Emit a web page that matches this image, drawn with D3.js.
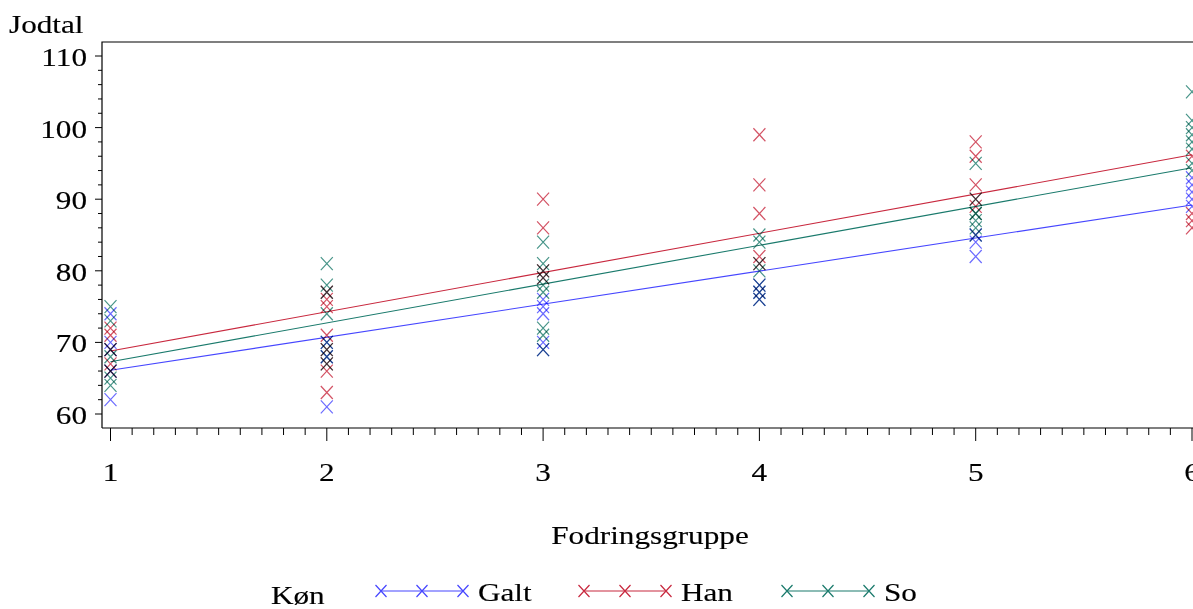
<!DOCTYPE html>
<html><head><meta charset="utf-8">
<script src="https://cdn.jsdelivr.net/npm/d3@7"></script>
<style>
body{margin:0;background:#fff}
svg{display:block}
text{font-family:"Liberation Serif","Times New Roman",serif;fill:#000;stroke:#000;stroke-width:0.15px}
</style>
</head><body>
<svg id="chart" width="1193" height="609"></svg>
<script>
// ---- data ----
const groups = [1, 2, 3, 4, 5, 6];
const seriesNames = ["Galt", "Han", "So"];
const galtValues = [[74, 70, 69, 66, 62], [70, 68, 61], [76, 75, 74, 70, 69], [78, 77, 76], [85, 84, 82], [93, 92, 91, 90, 89]];
const hanValues  = [[72, 71, 69, 67, 66], [77, 76, 75, 71, 69, 67, 66, 63], [90, 86, 80, 79], [99, 92, 88, 82, 81], [98, 96, 92, 90, 89], [96, 88, 87, 86]];
const soValues   = [[75, 73, 69, 68, 66, 65, 64], [81, 78, 77, 74, 70, 69, 68, 67], [84, 81, 80, 79, 78, 77, 72, 71, 69], [85, 84, 81, 80, 78, 77, 76], [95, 90, 88, 88, 87, 86, 85], [105, 101, 100, 99, 98, 97, 95, 94]];
const fitStart = [66.1, 68.8, 67.3];   // fitted value at group 1
const fitEnd   = [89.2, 96.2, 94.4];   // fitted value at group 6
const yTickValues = [60, 70, 80, 90, 100, 110];
const xTickValues = [1, 2, 3, 4, 5, 6];
const yLabel = "Jodtal";
const xLabel = "Fodringsgruppe";
const legendTitle = "Køn";

// ---- styling ----
const colors = ["#4646ff", "#c8283e", "#1a7a6c"];
const SX = 1.2, FS = 26;
const svg = d3.select("#chart");

const x = d3.scaleLinear().domain([1, 6]).range([110.5, 1192]);
const y = d3.scaleLinear().domain([60, 110]).range([414, 56]);
const pLeft = 102, pTop = 42, pBottom = 428, pRight = 1200;

function txt(xp, yp, s, anchor) {
  return svg.append("text")
    .attr("transform", `translate(${xp},${yp}) scale(${SX},1)`)
    .attr("text-anchor", anchor || "start")
    .attr("font-size", FS)
    .text(s);
}

// frame
svg.append("path")
  .attr("d", `M${pLeft},${pBottom}V${pTop}H${pRight}`)
  .attr("fill", "none").attr("stroke", "#000").attr("stroke-width", 1.2);
svg.append("line").attr("x1", pLeft).attr("x2", pRight).attr("y1", pBottom).attr("y2", pBottom)
  .attr("stroke", "#000").attr("stroke-width", 1.2);

// y ticks
const yMinor = d3.range(60, 110.01, 2);
svg.selectAll(".ymin").data(yMinor).join("line")
  .attr("x1", pLeft).attr("x2", d => yTickValues.includes(d) ? pLeft - 7 : pLeft - 4)
  .attr("y1", d => y(d)).attr("y2", d => y(d))
  .attr("stroke", "#000").attr("stroke-width", 1);
yTickValues.forEach(v => txt(87, y(v) + 10, String(v), "end"));

// x ticks
const xMinor = d3.range(10, 61).map(d => d / 10);
svg.selectAll(".xmin").data(xMinor).join("line")
  .attr("x1", d => x(d)).attr("x2", d => x(d))
  .attr("y1", pBottom).attr("y2", d => Number.isInteger(d) ? pBottom + 13 : pBottom + 7)
  .attr("stroke", "#000").attr("stroke-width", 1);
xTickValues.forEach(v => txt(x(v), 481, String(v), "middle"));

// axis titles
txt(9, 33, yLabel, "start");
txt(650, 544, xLabel, "middle");

// regression lines
seriesNames.forEach((n, i) => {
  svg.append("line")
    .attr("x1", x(groups[0])).attr("y1", y(fitStart[i]))
    .attr("x2", x(groups[groups.length - 1])).attr("y2", y(fitEnd[i]))
    .attr("stroke", colors[i]).attr("stroke-width", 1.1);
});

// markers
function cross(g, cx, cy, hw, hh, col, op) {
  g.append("path")
    .attr("d", `M${cx - hw},${cy - hh}L${cx + hw},${cy + hh}M${cx - hw},${cy + hh}L${cx + hw},${cy - hh}`)
    .attr("stroke", col).attr("stroke-width", 1.2).attr("fill", "none")
    .attr("stroke-opacity", op || 1);
}
const mg = svg.append("g");
[galtValues, hanValues, soValues].forEach((vals, i) => {
  vals.forEach((arr, gi) => {
    arr.forEach(v => cross(mg.append("g").style("mix-blend-mode", "multiply"), x(groups[gi]), y(v), 6, 6.5, colors[i], 0.8));
  });
});

// legend
txt(271, 604, legendTitle, "start");
const legX = [381, 584, 787];
seriesNames.forEach((n, i) => {
  const x0 = legX[i], x1 = x0 + 82, ly = 591;
  svg.append("line").attr("x1", x0).attr("x2", x1).attr("y1", ly).attr("y2", ly)
    .attr("stroke", colors[i]).attr("stroke-width", 1.1);
  [x0, (x0 + x1) / 2, x1].forEach(px => cross(svg, px, ly, 5.5, 6, colors[i]));
  txt(x1 + 15, 601, n, "start");
});
</script>
</body></html>
